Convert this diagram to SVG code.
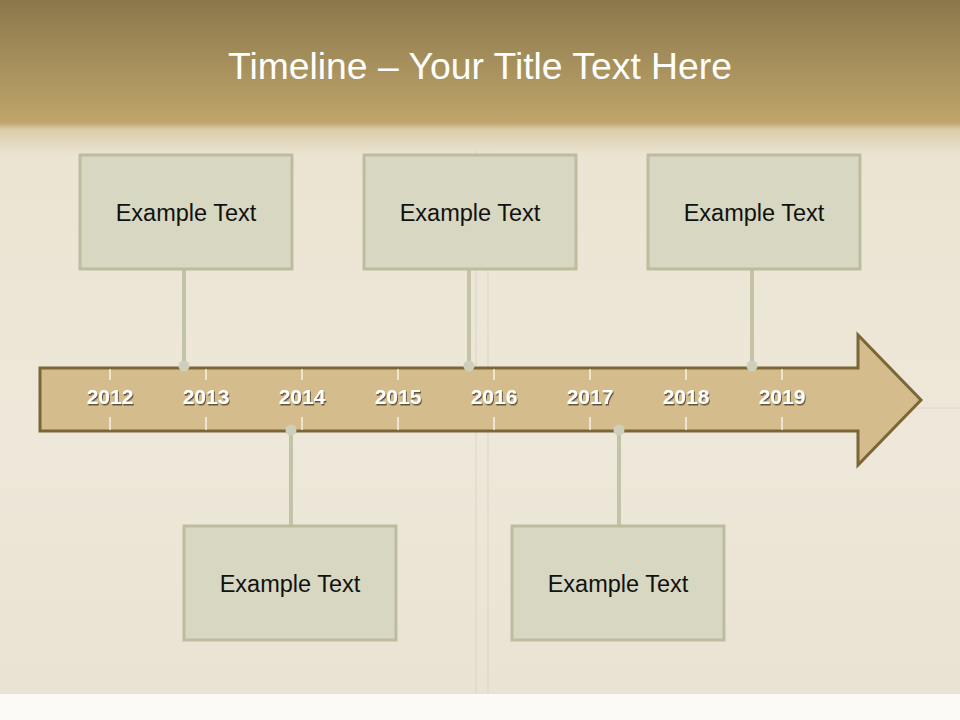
<svg xmlns="http://www.w3.org/2000/svg" width="960" height="720" viewBox="0 0 960 720">
  <defs>
    <linearGradient id="bg" x1="0" y1="0" x2="0" y2="720" gradientUnits="userSpaceOnUse">
      <stop offset="0" stop-color="#8a784c"/>
      <stop offset="0.17" stop-color="#bfa56b"/>
      <stop offset="0.18" stop-color="#dacdaa"/>
      <stop offset="0.215" stop-color="#ebe4d2"/>
      <stop offset="0.6" stop-color="#eee8da"/>
      <stop offset="0.96" stop-color="#eae3d3"/>
    </linearGradient>
    <filter id="shadow" x="-20%" y="-20%" width="140%" height="160%">
      <feDropShadow dx="1" dy="1.5" stdDeviation="0.6" flood-color="#3a3020" flood-opacity="0.75"/>
    </filter>
    <style>
      .box { fill: #d8d7c2; stroke: #bdbc9f; stroke-width: 3; }
      .lbl { font-family: "Liberation Sans", Arial, sans-serif; font-size: 23.5px; fill: #111111; text-anchor: middle; }
      .year { font-family: "Liberation Sans", Arial, sans-serif; font-size: 21px; font-weight: bold; fill: #ffffff; text-anchor: middle; filter: url(#shadow); }
      .tick { stroke: #ffffff; stroke-width: 1.2; }
      .conn { stroke: #c3c3a8; stroke-width: 4; fill: none; }
      .dot { fill: #cfd0bc; }
      .paper { stroke: #ddd7ca; stroke-width: 1.2; fill: none; }
    </style>
  </defs>

  <rect x="0" y="0" width="960" height="720" fill="url(#bg)"/>
  <rect x="0" y="694" width="960" height="26" fill="#fcfaf6"/>
  <g id="paper-lines">
    <line class="paper" x1="476" y1="150" x2="476" y2="694"/>
    <line class="paper" x1="488" y1="150" x2="488" y2="694"/>
    <line class="paper" x1="860" y1="408" x2="960" y2="408"/>
  </g>

  <text x="480" y="79" font-family="Liberation Sans, Arial, sans-serif" font-size="36" fill="#ffffff" text-anchor="middle" textLength="504" lengthAdjust="spacingAndGlyphs">Timeline – Your Title Text Here</text>

  <g id="arrow">
    <path d="M40,368 L858,368 L858,335 L921,400 L858,465 L858,431 L40,431 Z" fill="#d4bc8c" stroke="#7a6636" stroke-width="3" stroke-linejoin="miter"/>
    <g id="ticks">
      <line class="tick" x1="110" y1="369" x2="110" y2="380"/><line class="tick" x1="110" y1="417" x2="110" y2="430"/>
      <line class="tick" x1="206" y1="369" x2="206" y2="380"/><line class="tick" x1="206" y1="417" x2="206" y2="430"/>
      <line class="tick" x1="302" y1="369" x2="302" y2="380"/><line class="tick" x1="302" y1="417" x2="302" y2="430"/>
      <line class="tick" x1="398" y1="369" x2="398" y2="380"/><line class="tick" x1="398" y1="417" x2="398" y2="430"/>
      <line class="tick" x1="494" y1="369" x2="494" y2="380"/><line class="tick" x1="494" y1="417" x2="494" y2="430"/>
      <line class="tick" x1="590" y1="369" x2="590" y2="380"/><line class="tick" x1="590" y1="417" x2="590" y2="430"/>
      <line class="tick" x1="686" y1="369" x2="686" y2="380"/><line class="tick" x1="686" y1="417" x2="686" y2="430"/>
      <line class="tick" x1="782" y1="369" x2="782" y2="380"/><line class="tick" x1="782" y1="417" x2="782" y2="430"/>
    </g>
    <g id="years">
      <text class="year" x="110" y="404">2012</text>
      <text class="year" x="206" y="404">2013</text>
      <text class="year" x="302" y="404">2014</text>
      <text class="year" x="398" y="404">2015</text>
      <text class="year" x="494" y="404">2016</text>
      <text class="year" x="590" y="404">2017</text>
      <text class="year" x="686" y="404">2018</text>
      <text class="year" x="782" y="404">2019</text>
    </g>
  </g>

  <g id="connectors">
    <line class="conn" x1="184" y1="270" x2="184" y2="366"/>
    <line class="conn" x1="469" y1="270" x2="469" y2="366"/>
    <line class="conn" x1="752" y1="270" x2="752" y2="366"/>
    <line class="conn" x1="291" y1="430" x2="291" y2="526"/>
    <line class="conn" x1="619" y1="430" x2="619" y2="526"/>
    <circle class="dot" cx="184" cy="366" r="5.5"/>
    <circle class="dot" cx="469" cy="366" r="5.5"/>
    <circle class="dot" cx="752" cy="366" r="5.5"/>
    <circle class="dot" cx="291" cy="430" r="5.5"/>
    <circle class="dot" cx="619" cy="430" r="5.5"/>
  </g>

  <g id="box1">
    <rect class="box" x="80" y="155" width="212" height="114"/>
    <text class="lbl" x="186" y="221">Example Text</text>
  </g>
  <g id="box2">
    <rect class="box" x="364" y="155" width="212" height="114"/>
    <text class="lbl" x="470" y="221">Example Text</text>
  </g>
  <g id="box3">
    <rect class="box" x="648" y="155" width="212" height="114"/>
    <text class="lbl" x="754" y="221">Example Text</text>
  </g>
  <g id="box4">
    <rect class="box" x="184" y="526" width="212" height="114"/>
    <text class="lbl" x="290" y="592">Example Text</text>
  </g>
  <g id="box5">
    <rect class="box" x="512" y="526" width="212" height="114"/>
    <text class="lbl" x="618" y="592">Example Text</text>
  </g>
</svg>
